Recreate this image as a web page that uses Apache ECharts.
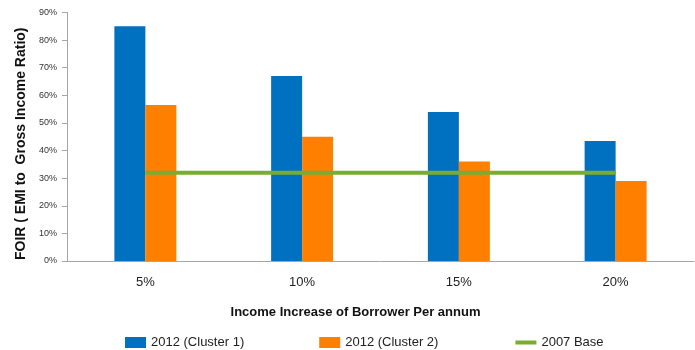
<!DOCTYPE html>
<html>
<head>
<meta charset="utf-8">
<script src="https://cdn.jsdelivr.net/npm/echarts@6/dist/echarts.min.js"></script>
<style>
  html, body { margin: 0; padding: 0; background: #fff; }
  #chart { width: 695px; height: 350px; }
</style>
</head>
<body>
<div id="chart"></div>
<script>
// data
var categories = ['5%', '10%', '15%', '20%']
var cluster1 = [85, 67, 54, 43.5]
var cluster2 = [56.5, 45, 36, 29]
var base2007 = [32, 32, 32, 32]

var font = 'Liberation Sans'

var chart = echarts.init(document.getElementById('chart'))
chart.setOption({
  animation: false,
  textStyle: { fontFamily: font },
  grid: {
    left: 67,
    width: 627,
    top: 12.5,
    bottom: 89,
    containLabel: false
  },
  legend: {
    left: 125,
    top: 336,
    padding: 0,
    itemWidth: 21,
    itemHeight: 11,
    itemGap: 75,
    textStyle: { fontSize: 13, color: '#222', fontFamily: font },
    data: [
      { name: '2012 (Cluster 1)', icon: 'rect' },
      { name: '2012 (Cluster 2)', icon: 'rect' },
      { name: '2007 Base', itemStyle: { opacity: 0 }, lineStyle: { width: 4 } }
    ]
  },
  xAxis: {
    type: 'category',
    data: categories,
    axisLine: { lineStyle: { color: '#a6a6a6', width: 1 } },
    axisTick: { show: false },
    axisLabel: { fontSize: 13, color: '#222', margin: 15 },
    name: 'Income Increase of Borrower Per annum',
    nameLocation: 'middle',
    nameGap: 45,
    nameTextStyle: { fontSize: 13, fontWeight: 'bold', color: '#111', padding: [0, 50, 0, 0] }
  },
  yAxis: {
    type: 'value',
    min: 0,
    max: 90,
    interval: 10,
    splitLine: { show: false },
    axisLine: { show: true, lineStyle: { color: '#a6a6a6', width: 1 } },
    axisTick: { show: true, length: 5, lineStyle: { color: '#a6a6a6' } },
    axisLabel: { fontSize: 9, color: '#333', margin: 10, formatter: '{value}%' },
    name: 'FOIR ( EMI to  Gross Income Ratio)',
    nameLocation: 'middle',
    nameGap: 36,
    nameTextStyle: { fontSize: 14, fontWeight: 'bold', color: '#111', padding: [0, 14, 0, 0] }
  },
  series: [
    {
      name: '2012 (Cluster 1)',
      type: 'bar',
      data: cluster1,
      barWidth: 31,
      barGap: '0%',
      itemStyle: { color: '#0070C0' }
    },
    {
      name: '2012 (Cluster 2)',
      type: 'bar',
      data: cluster2,
      barWidth: 31,
      barGap: '0%',
      itemStyle: { color: '#FF7F00' }
    },
    {
      name: '2007 Base',
      type: 'line',
      data: base2007,
      symbol: 'none',
      lineStyle: { color: '#77AD31', width: 4 },
      itemStyle: { color: '#77AD31' }
    }
  ]
})
</script>
</body>
</html>
